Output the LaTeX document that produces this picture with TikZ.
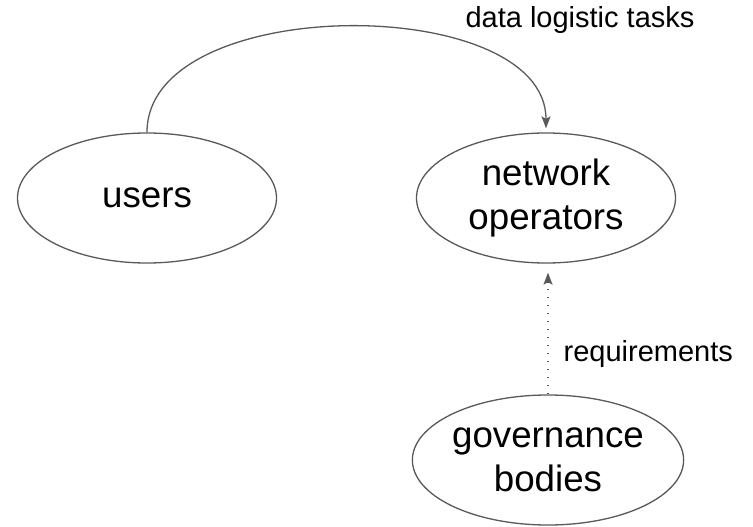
\documentclass[tikz,border=0pt]{standalone}
\usepackage{fontspec}
\setmainfont{Liberation Sans}
\usetikzlibrary{shapes.geometric,arrows.meta,positioning}

\definecolor{linegray}{HTML}{595959}

\tikzset{
  party/.style={ellipse, draw=linegray, line width=1.3pt, minimum width=259pt,
    minimum height=130pt, inner sep=0pt, align=center,
    font=\fontsize{36.7pt}{44pt}\selectfont},
  flowlabel/.style={font=\fontsize{29pt}{35pt}\selectfont, inner sep=0pt},
  tip/.style={-{Stealth[length=12pt, width=9pt, inset=2.5pt]}}
}

\begin{document}
\begin{tikzpicture}[x=1pt, y=-1pt, line width=1.3pt]
   \useasboundingbox (0,0) rectangle (753,527);

   \node[party] (users)  at (147,198) {users};
   \node[party] (netops) at (546,198) {network\\operators};
   \node[party] (govern) at (548,460) {governance\\bodies};

   \node[flowlabel] (tasks) at (580,20) {data logistic tasks};
   \node[flowlabel, anchor=west] (reqs) at (563,354) {requirements};

   % tasks handed over, and rules coming up from below
   \draw[tip, draw=linegray, shorten >=4pt]
    (users.north) to [out=90, in=90, looseness=0.9] (netops.north);
   \draw[tip, draw=linegray, shorten >=9pt, line width=1.5pt,
         dash pattern=on 1.6pt off 6.4pt]
    (govern.north) -- (govern.north |- netops.south);
\end{tikzpicture}
\end{document}
